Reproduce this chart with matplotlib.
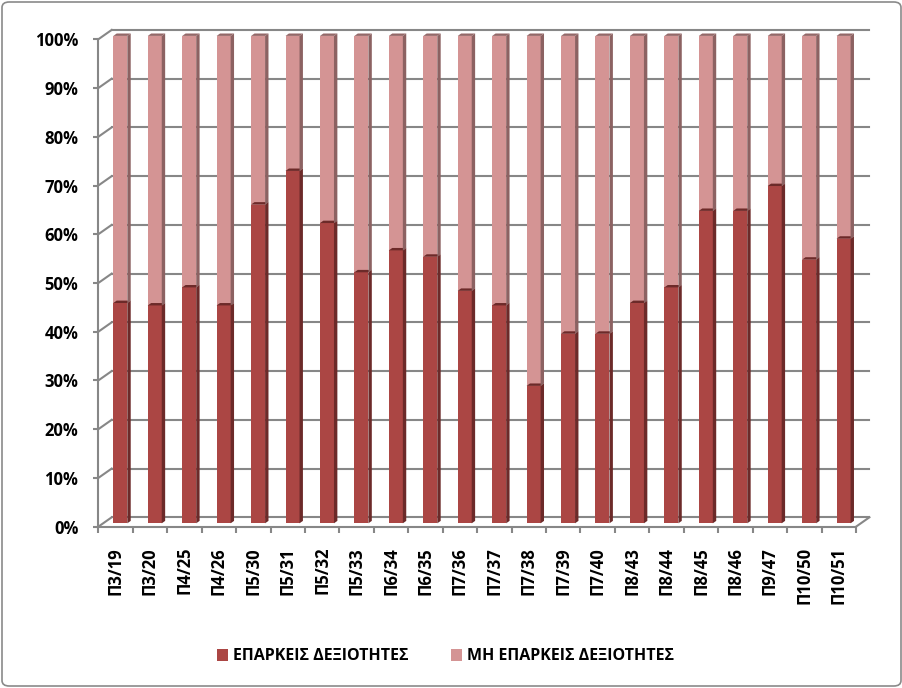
import matplotlib
matplotlib.use("Agg")
import matplotlib.pyplot as plt
from matplotlib.patches import Patch, Polygon, FancyBboxPatch
from matplotlib.lines import Line2D
from matplotlib.transforms import ScaledTranslation
import numpy as np

plt.rcParams['font.family'] = ['Open Sans', 'DejaVu Sans']
plt.rcParams['font.weight'] = 'bold'

categories = ['Π3/19', 'Π3/20', 'Π4/25', 'Π4/26', 'Π5/30', 'Π5/31', 'Π5/32', 'Π5/33',
              'Π6/34', 'Π6/35', 'Π7/36', 'Π7/37', 'Π7/38', 'Π7/39', 'Π7/40', 'Π8/43',
              'Π8/44', 'Π8/45', 'Π8/46', 'Π9/47', 'Π10/50', 'Π10/51']
adequate = [45.2, 44.7, 48.4, 44.7, 65.4, 72.3, 61.6, 51.5, 56.0, 54.7, 47.7,
            44.7, 28.2, 38.9, 38.9, 45.2, 48.4, 64.1, 64.1, 69.2, 54.1, 58.4]
not_adequate = [100 - v for v in adequate]
series_names = ['ΕΠΑΡΚΕΙΣ ΔΕΞΙΟΤΗΤΕΣ', 'ΜΗ ΕΠΑΡΚΕΙΣ ΔΕΞΙΟΤΗΤΕΣ']
yticks = list(range(0, 101, 10))

dark_front, dark_side = '#AB4644', '#6C2A29'
pink_front, pink_side, pink_top = '#D49494', '#8C6262', '#946868'
grid_c = '#878787'

W, H, DPI = 903, 688, 100
fig = plt.figure(figsize=(W / DPI, H / DPI), dpi=DPI)
fig.patch.set_facecolor('white')

# front plane of the chart (front axis)
ax = fig.add_axes([98.3 / W, (H - 526.7) / H, 757.7 / W, 487.4 / H])
ax.set_xlim(-0.5, len(categories) - 0.5)
ax.set_ylim(0, 100)
ax.patch.set_visible(False)
for s in ['top', 'right']:
    ax.spines[s].set_visible(False)
for s in ['left', 'bottom']:
    ax.spines[s].set_color(grid_c)
    ax.spines[s].set_linewidth(1.5)

x = np.arange(len(categories))
ax.set_yticks(yticks)
ax.set_yticklabels([f'{t}%' for t in yticks], fontsize=12, fontweight='bold')
ax.tick_params(axis='y', length=3.6, width=1.5, color=grid_c, pad=10.8)
ax.set_xticks(x)
ax.set_xticklabels(categories, rotation=90, fontsize=12, fontweight='bold', va='top')
ax.tick_params(axis='x', which='major', length=0, pad=14.6)
ax.set_xticks(np.arange(-0.5, len(categories)), minor=True)
ax.tick_params(axis='x', which='minor', length=4, width=1.5, color=grid_c)

px = 1.0 / DPI  # one pixel in inches
back = ax.transData + ScaledTranslation(13.4 * px, 9.4 * px, fig.dpi_scale_trans)
front = ax.transData + ScaledTranslation(4.8 * px, 3.4 * px, fig.dpi_scale_trans)

xmin, xmax = ax.get_xlim()

# back wall gridlines
for t in yticks:
    ax.add_line(Line2D([xmin, xmax], [t, t], color=grid_c, lw=1.5,
                       transform=back, zorder=1, clip_on=False))

# left wall / floor diagonals
def seg(p):
    a = ax.transData.transform([p])[0]
    b = back.transform([p])[0]
    fig.add_artist(Line2D([a[0], b[0]], [a[1], b[1]], color=grid_c, lw=1.5,
                          transform=None, zorder=1))

for t in yticks:
    seg((xmin, t))
seg((xmax, 0))

# bars: front faces via ax.bar, side/top faces from their extents
bw = 14 / (757.7 / len(categories))
depth_x, depth_y = 3.4, 2.4

bars_dark = ax.bar(x, adequate, width=bw, color=dark_front, transform=front,
                   zorder=3, linewidth=0, clip_on=False)
bars_pink = ax.bar(x, not_adequate, bottom=adequate, width=bw, color=pink_front,
                   transform=front, zorder=3, linewidth=0, clip_on=False)

def add_faces(bars, side_c, top_c, z):
    for r in bars:
        bb = r.get_window_extent()
        x0, x1, y0, y1 = bb.x0, bb.x1, bb.y0, bb.y1
        side = [(x1, y0), (x1 + depth_x, y0 + depth_y), (x1 + depth_x, y1 + depth_y), (x1, y1)]
        top = [(x0, y1), (x0 + depth_x, y1 + depth_y), (x1 + depth_x, y1 + depth_y), (x1, y1)]
        fig.add_artist(Polygon(side, closed=True, facecolor=side_c, edgecolor='none',
                               transform=None, zorder=z))
        fig.add_artist(Polygon(top, closed=True, facecolor=top_c, edgecolor='none',
                               transform=None, zorder=z))

add_faces(bars_dark, dark_side, dark_side, 3)
add_faces(bars_pink, pink_side, pink_top, 3.1)

# legend
handles = [Patch(facecolor=dark_front, edgecolor='none'),
           Patch(facecolor=pink_front, edgecolor='none')]
fig.legend(handles, series_names, loc='center', bbox_to_anchor=(445.5 / W, 31.5 / H),
           ncol=2, frameon=False, handlelength=0.7, handleheight=0.7,
           handletextpad=0.35, columnspacing=2.6,
           prop={'family': ['Open Sans', 'DejaVu Sans'], 'weight': 'bold', 'size': 11.5})

# outer chart border
fig.add_artist(FancyBboxPatch((2 / W, 2 / H), 1 - 4 / W, 1 - 4 / H,
                              boxstyle='round,pad=0,rounding_size=0.008',
                              transform=fig.transFigure, facecolor='none',
                              edgecolor='#8A8A8A', lw=1.2, zorder=0))

fig.savefig('out.png', dpi=DPI)
